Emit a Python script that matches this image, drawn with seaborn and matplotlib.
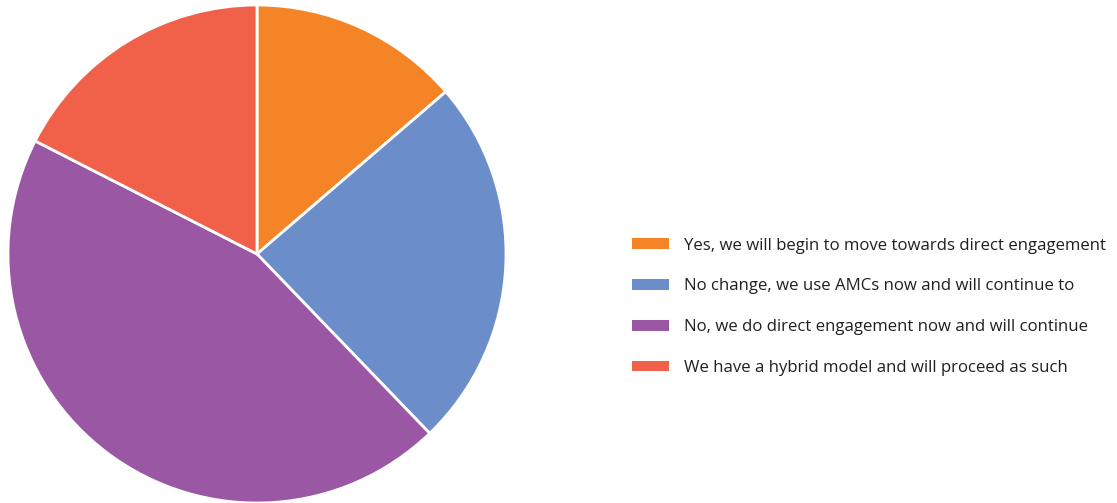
import matplotlib
matplotlib.use("Agg")
import matplotlib.pyplot as plt
import seaborn as sns

# Survey responses (share of respondents, %)
labels = [
    "Yes, we will begin to move towards direct engagement",
    "No change, we use AMCs now and will continue to",
    "No, we do direct engagement now and will continue",
    "We have a hybrid model and will proceed as such",
]
shares = [13.7, 24.1, 44.7, 17.5]
colors = ["#F58426", "#6B8ECB", "#9A58A4", "#F16149"]

sns.set_theme(style="white")
plt.rcParams["font.family"] = ["Open Sans", "DejaVu Sans"]

W, H = 1117, 503
fig = plt.figure(figsize=(W / 100, H / 100), dpi=100)
fig.patch.set_facecolor("white")

cx, cy, r = 257, 254, 249
ax = fig.add_axes([(cx - r) / W, (H - cy - r) / H, 2 * r / W, 2 * r / H])
wedges, _ = ax.pie(
    shares,
    colors=colors,
    startangle=90,
    counterclock=False,
    radius=1.0,
    wedgeprops=dict(edgecolor="white", linewidth=2),
)
ax.set_xlim(-1, 1)
ax.set_ylim(-1, 1)
ax.set_aspect("equal")
ax.axis("off")

leg = fig.legend(
    wedges,
    labels,
    loc="upper left",
    bbox_to_anchor=(625 / W, 1 - 231 / H),
    frameon=False,
    fontsize=12.1,
    handlelength=2.2,
    handleheight=0.6,
    handletextpad=0.9,
    labelspacing=1.47,
    borderaxespad=0,
)
for h in leg.legend_handles:
    h.set_edgecolor("none")
for t in leg.get_texts():
    t.set_color("#231F20")

fig.savefig("out.png", dpi=100, facecolor="white")
